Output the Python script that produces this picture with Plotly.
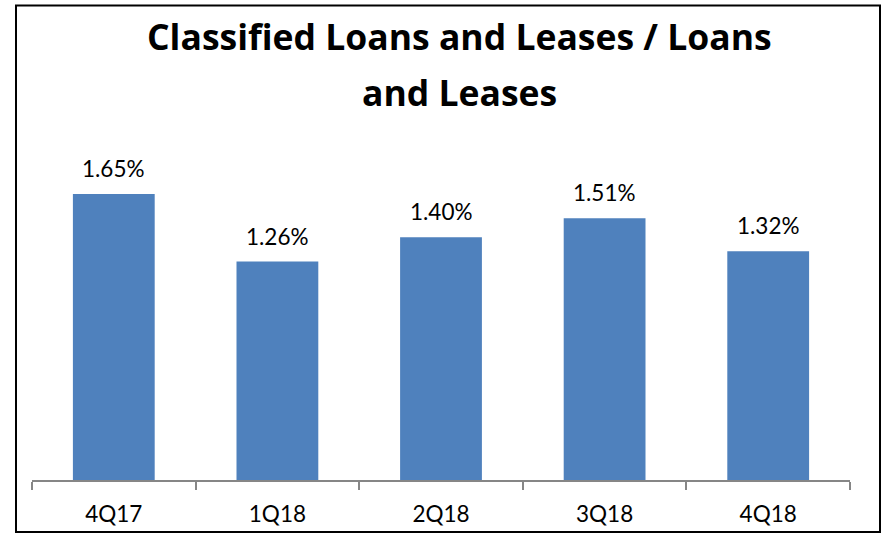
import plotly.graph_objects as go

# Classified loans and leases as a share of total loans and leases
quarters = ["4Q17", "1Q18", "2Q18", "3Q18", "4Q18"]
ratios = [1.65, 1.26, 1.40, 1.51, 1.32]
title_lines = ["Classified Loans and Leases / Loans", "and Leases"]

BAR_COLOR = "#4F81BD"
AXIS_COLOR = "#868686"
FONT = "Lato, Calibri, Arial, sans-serif"
TITLE_FONT = "'Open Sans', Calibri, Arial, sans-serif"

W, H = 883, 534
L, R, T, B = 32, 33, 168, 54
plot_h = H - T - B
plot_w = W - L - R


def px_to_paper_y(py):
    return (H - B - py) / plot_h


def px_to_paper_x(px):
    return (px - L) / plot_w


fig = go.Figure(
    go.Bar(
        x=quarters,
        y=ratios,
        marker=dict(color=BAR_COLOR, line=dict(width=0)),
        hoverinfo="skip",
    )
)

annotations = []
# value labels above each bar
for q, v in zip(quarters, ratios):
    annotations.append(dict(
        x=q, y=v, xref="x", yref="y",
        text=f"{v:.2f}%",
        showarrow=False,
        yanchor="bottom",
        yshift=10,
        font=dict(family=FONT, size=22.5, color="#000000"),
    ))

# two-line chart title
for line, cy in zip(title_lines, [36, 91.5]):
    annotations.append(dict(
        x=px_to_paper_x(459), y=px_to_paper_y(cy),
        xref="paper", yref="paper",
        text=f"<b>{line}</b>",
        showarrow=False,
        xanchor="center", yanchor="middle",
        font=dict(family=TITLE_FONT, size=35.5, color="#000000"),
    ))

fig.update_layout(
    width=W, height=H,
    margin=dict(l=L, r=R, t=T, b=B, pad=0, autoexpand=False),
    paper_bgcolor="white",
    plot_bgcolor="white",
    bargap=0.5,
    showlegend=False,
    annotations=annotations,
    shapes=[dict(
        type="rect", xref="paper", yref="paper",
        x0=px_to_paper_x(16), x1=px_to_paper_x(880),
        y0=px_to_paper_y(532), y1=px_to_paper_y(5.5),
        line=dict(color="#000000", width=2),
        fillcolor="rgba(0,0,0,0)",
        layer="above",
    )],
    xaxis=dict(
        type="category",
        automargin=False,
        showline=True, linecolor=AXIS_COLOR, linewidth=1.5,
        ticks="outside", tickson="boundaries",
        ticklen=8, tickcolor=AXIS_COLOR, tickwidth=1.5,
        ticklabelstandoff=13,
        tickfont=dict(family=FONT, size=22.5, color="#000000"),
        showgrid=False, zeroline=False,
        fixedrange=True,
    ),
    yaxis=dict(
        range=[0, 1.8],
        visible=False,
        automargin=False,
        showgrid=False, zeroline=False,
        fixedrange=True,
    ),
)

fig.write_html("out.html")
